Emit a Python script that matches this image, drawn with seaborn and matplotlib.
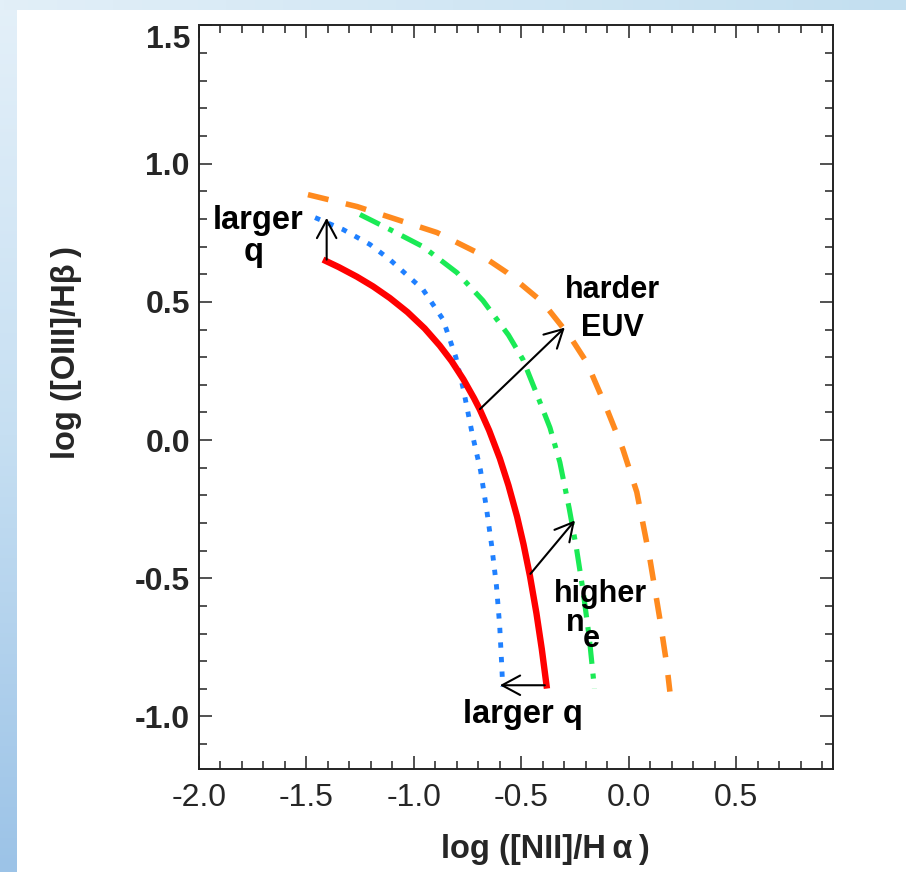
import numpy as np
import matplotlib
matplotlib.use("Agg")
import matplotlib.pyplot as plt
import seaborn as sns
from matplotlib.ticker import FixedLocator, MultipleLocator
from matplotlib.colors import LinearSegmentedColormap

# ---------------- data ----------------
red_x = [-1.423, -1.350, -1.265, -1.190, -1.112, -1.030, -0.950, -0.880, -0.825, -0.770,
         -0.720, -0.693, -0.650, -0.600, -0.560, -0.520, -0.490, -0.460, -0.430, -0.405, -0.381]
red_y = [0.653, 0.626, 0.591, 0.556, 0.514, 0.463, 0.404, 0.342, 0.286, 0.220,
         0.151, 0.110, 0.035, -0.067, -0.164, -0.277, -0.377, -0.492, -0.626, -0.756, -0.899]

blue_x = [-1.460, -1.330, -1.205, -1.112, -0.958, -0.865, -0.805, -0.770, -0.728, -0.690,
          -0.662, -0.638, -0.616, -0.601, -0.591, -0.587]
blue_y = [0.805, 0.762, 0.708, 0.653, 0.545, 0.437, 0.300, 0.184, 0.020, -0.110,
          -0.249, -0.383, -0.527, -0.671, -0.820, -0.892]

green_x = [-1.251, -1.112, -0.958, -0.800, -0.679, -0.560, -0.493, -0.420, -0.367, -0.321,
           -0.278, -0.244, -0.214, -0.184, -0.160]
green_y = [0.816, 0.762, 0.700, 0.606, 0.505, 0.380, 0.292, 0.150, 0.045, -0.080,
           -0.245, -0.390, -0.540, -0.715, -0.899]

orange_x = [-1.493, -1.265, -1.079, -0.893, -0.707, -0.567, -0.400, -0.274, -0.195, -0.102,
            -0.028, 0.037, 0.098, 0.144, 0.177, 0.191]
orange_y = [0.888, 0.845, 0.798, 0.751, 0.679, 0.606, 0.498, 0.375, 0.280, 0.112,
            -0.032, -0.188, -0.430, -0.646, -0.815, -0.910]

x_ticks = [-2.0, -1.5, -1.0, -0.5, 0.0, 0.5]
x_tick_labels = ["-2.0", "-1.5", "-1.0", "-0.5", "0.0", "0.5"]
y_ticks = [-1.0, -0.5, 0.0, 0.5, 1.0, 1.5]
y_tick_labels = ["-1.0", "-0.5", "0.0", "0.5", "1.0", "1.5"]

x_label = "log ([NII]/H\u2009α\u2009)"
y_label = "log ([OIII]/Hβ\u2009)"

# arrows: (base, tip)
arrow_bases = [(-1.406, 0.653), (-0.693, 0.112), (-0.458, -0.484), (-0.391, -0.887)]
arrow_tips = [(-1.406, 0.804), (-0.298, 0.407), (-0.251, -0.291), (-0.600, -0.887)]

# annotation texts: (text, x, baseline y, size)
notes = [("larger", -1.726, 0.762, 23.5), ("q", -1.744, 0.647, 23.5),
         ("harder", -0.077, 0.515, 22), ("EUV", -0.077, 0.377, 22),
         ("higher", -0.131, -0.586, 22), ("n", -0.251, -0.692, 22),
         ("e", -0.174, -0.748, 22), ("larger q", -0.495, -1.025, 23.5)]

# ---------------- figure ----------------
sns.set_theme(style="ticks")
plt.rcParams["font.family"] = ["Liberation Sans", "DejaVu Sans"]

W, H = 906, 872
fig = plt.figure(figsize=(W / 100, H / 100), dpi=100)
fig.patch.set_facecolor("white")

# slide background bands
left_ax = fig.add_axes([0, 0, 17 / W, 1])
cm_left = LinearSegmentedColormap.from_list("l", ["#e4f0f9", "#c6dff2", "#9cc3e7"])
left_ax.imshow(np.linspace(0, 1, 256).reshape(-1, 1), aspect="auto", cmap=cm_left)
left_ax.axis("off")
top_ax = fig.add_axes([0, 1 - 10 / H, 1, 10 / H])
cm_top = LinearSegmentedColormap.from_list("t", ["#e2eff8", "#d2e7f4", "#c3dff0"])
top_ax.imshow(np.linspace(0, 1, 256).reshape(1, -1), aspect="auto", cmap=cm_top)
top_ax.axis("off")

ax = fig.add_axes([199 / W, 1 - 769 / H, (833 - 199) / W, (769 - 25.5) / H])
ax.set_facecolor("white")

sns.lineplot(x=blue_x, y=blue_y, sort=False, estimator=None, ax=ax, color="#1f80ff",
             lw=3.5, linestyle=(0, (1.1, 1.9)), dash_capstyle="butt")
sns.lineplot(x=green_x, y=green_y, sort=False, estimator=None, ax=ax, color="#1aea55",
             lw=3.7, linestyle=(0, (4.3, 1.9, 1.0, 1.9)), dash_capstyle="butt")
sns.lineplot(x=orange_x, y=orange_y, sort=False, estimator=None, ax=ax, color="#ff8a1e",
             lw=4.0, linestyle=(0, (3.8, 3.2)), dash_capstyle="butt")
sns.lineplot(x=red_x, y=red_y, sort=False, estimator=None, ax=ax, color="#ff0000",
             lw=4.6, solid_capstyle="butt", solid_joinstyle="round")

for b, t in zip(arrow_bases, arrow_tips):
    ax.annotate("", xy=t, xytext=b,
                arrowprops=dict(arrowstyle="->,head_length=0.65,head_width=0.35",
                                lw=1.5, color="black", shrinkA=0, shrinkB=0,
                                mutation_scale=20))

for s, x, y, size in notes:
    ax.text(x, y, s, ha="center", va="baseline", fontsize=size, fontweight="bold",
            color="black")

ax.set_xlim(-2.0, 0.95)
ax.set_ylim(-1.19, 1.5)
ax.set_xlabel("")
ax.set_ylabel("")

ax.xaxis.set_major_locator(FixedLocator(x_ticks))
ax.yaxis.set_major_locator(FixedLocator(y_ticks))
ax.xaxis.set_minor_locator(MultipleLocator(0.1))
ax.yaxis.set_minor_locator(MultipleLocator(0.1))
ax.set_xticklabels(x_tick_labels, fontsize=23)
ax.set_yticklabels(y_tick_labels, fontsize=23, fontweight="bold")

ax.tick_params(which="both", direction="in", top=True, right=True, color="#222222",
               width=1.1)
ax.tick_params(which="major", length=9.5)
ax.tick_params(which="minor", length=5.8)
ax.tick_params(axis="x", which="major", pad=10)
ax.tick_params(axis="y", which="major", pad=6.5)
for sp in ax.spines.values():
    sp.set_visible(True)
    sp.set_linewidth(1.4)
    sp.set_color("#222222")

ax.get_yticklabels()[-1].set_va("top")

fig.text(545 / W, 1 - 849 / H, x_label, ha="center", va="center", fontsize=23.5,
         fontweight="bold")
fig.text(67 / W, 1 - 352 / H, y_label, ha="center", va="center", fontsize=23.5,
         fontweight="bold", rotation=90)

fig.savefig("out.png", dpi=100, facecolor=fig.get_facecolor())
